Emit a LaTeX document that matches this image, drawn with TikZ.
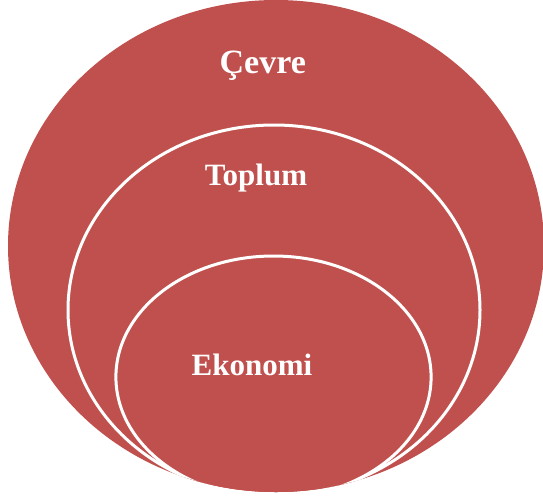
\documentclass[tikz,border=0pt]{standalone}
\usepackage{fontspec}
\setmainfont{Liberation Serif}
\usepackage{tikz}
\definecolor{ringred}{HTML}{C0504D}

\begin{document}
\begin{tikzpicture}[x=1pt, y=-1pt,
	ringline/.style={draw=white, line width=3pt, fill=ringred},
	ringtext/.style={text=white, anchor=base, inner sep=0pt,
		font=\bfseries\fontsize{31}{31}\selectfont}]
	\useasboundingbox (0,0) rectangle (543,501);
	
	% outer ring
	\fill[ringred] (276,246) ellipse [x radius=268, y radius=246];
	\begin{scope}
		\clip (276,246) ellipse [x radius=268, y radius=246];
		\draw[ringline] (274,310) ellipse [x radius=206, y radius=185];
		\draw[ringline] (273.5,377) ellipse [x radius=157.6, y radius=121];
	\end{scope}
	
	\node[ringtext, font=\bfseries\fontsize{34}{34}\selectfont] (cevre) at (262.8,73) {Çevre};
	\node[ringtext] (toplum) at (256,185) {Toplum};
	\node[ringtext] (ekonomi) at (252,375) {Ekonomi};
	
\end{tikzpicture}
\end{document}
